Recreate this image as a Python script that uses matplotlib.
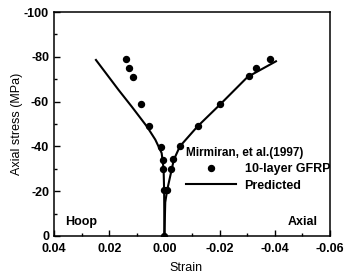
import numpy as np
import matplotlib.pyplot as plt
from matplotlib.ticker import MultipleLocator, FormatStrFormatter

plt.rcParams['font.family'] = ['Liberation Sans', 'DejaVu Sans']

# test data, Mirmiran et al. (1997), 10-layer GFRP
hoop_strain = [0.0139, 0.0130, 0.0115, 0.0084, 0.0055, 0.0011, 0.0006, 0.0004, 0.0002, 0.0]
hoop_stress = [-79.0, -75.0, -71.0, -59.0, -49.0, -39.5, -34.0, -30.0, -20.5, 0.0]
axial_strain = [-0.0010, -0.0024, -0.0031, -0.0056, -0.0120, -0.0202, -0.0305, -0.0333, -0.0381]
axial_stress = [-20.5, -30.0, -34.5, -40.0, -49.0, -59.0, -71.5, -75.0, -79.0]

# predicted curves
pred_hoop_strain = [0.0, 0.0001, 0.0003, 0.0010, 0.0033, 0.0063, 0.0118, 0.0166, 0.0248]
pred_hoop_stress = [0.0, -20.0, -30.0, -37.0, -43.0, -48.8, -57.7, -65.2, -78.6]
pred_axial_strain = [0.0, -0.0003, -0.0010, -0.0034, -0.0056, -0.0119, -0.0204, -0.0301, -0.0404]
pred_axial_stress = [0.0, -15.0, -20.5, -34.0, -40.0, -48.8, -59.0, -71.0, -78.0]

fig = plt.figure(figsize=(3.46, 2.74), dpi=100)
ax = fig.add_axes([0.156, 0.139, 0.798, 0.817])

pts, = ax.plot(hoop_strain, hoop_stress, 'o', color='black', ms=4.3)
ax.plot(axial_strain, axial_stress, 'o', color='black', ms=4.3)
ln, = ax.plot(pred_hoop_strain, pred_hoop_stress, '-', color='black', lw=1.5)
ax.plot(pred_axial_strain, pred_axial_stress, '-', color='black', lw=1.5)

ax.set_xlim(0.04, -0.06)
ax.set_ylim(0, -100)
ax.xaxis.set_major_locator(MultipleLocator(0.02))
ax.xaxis.set_minor_locator(MultipleLocator(0.01))
ax.yaxis.set_major_locator(MultipleLocator(20))
ax.yaxis.set_minor_locator(MultipleLocator(10))
ax.xaxis.set_major_formatter(FormatStrFormatter('%.2f'))
ax.yaxis.set_major_formatter(FormatStrFormatter('%d'))
ax.tick_params(which='both', direction='in', top=False, right=False,
               width=1, labelsize=9)
ax.tick_params(which='major', length=4)
ax.tick_params(which='minor', length=2.5)
ax.tick_params(axis='x', pad=5)
for lab in ax.get_xticklabels() + ax.get_yticklabels():
    lab.set_fontweight('bold')
for s in ax.spines.values():
    s.set_linewidth(1.1)

ax.set_xlabel('Strain', fontsize=9, labelpad=2)
ax.xaxis.set_label_coords(0.478, -0.115)
ax.set_ylabel('Axial stress (MPa)', fontsize=9, labelpad=1)

ax.text(0.036, -6, 'Hoop', fontsize=9, fontweight='bold', va='center')
ax.text(-0.0556, -6, 'Axial', fontsize=9, fontweight='bold', va='center', ha='right')

leg = ax.legend([pts, ln], ['10-layer GFRP', 'Predicted'],
                title='Mirmiran, et al.(1997)', loc='upper left',
                bbox_to_anchor=(0.455, 0.425), frameon=False,
                fontsize=9, title_fontsize=8.5, handlelength=4,
                handletextpad=0.7, labelspacing=0.35, borderpad=0,
                alignment='left')
leg.get_title().set_fontweight('bold')
for t in leg.get_texts():
    t.set_fontweight('bold')

fig.savefig('out.png', dpi=100)
